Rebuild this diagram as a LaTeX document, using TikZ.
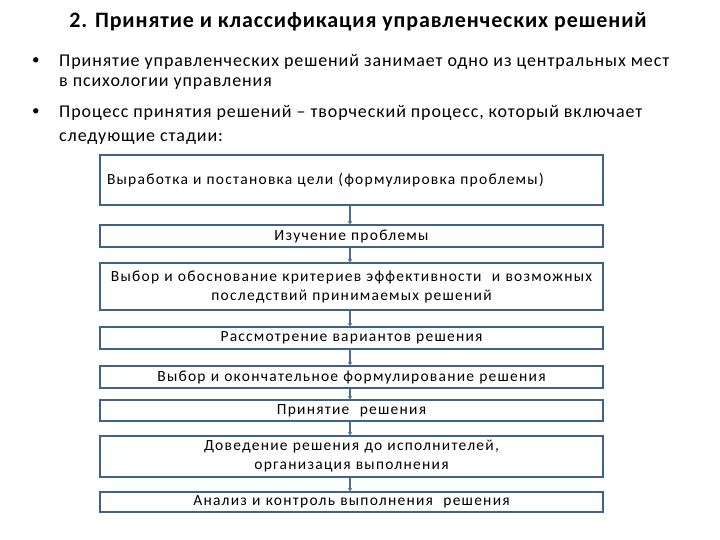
\documentclass[tikz,border=0pt]{standalone}
\usepackage{fontspec}
\setmainfont{Carlito}
\newfontfamily\boxf[LetterSpace=8]{Carlito}
\newfontfamily\bulf[LetterSpace=5]{Carlito}
\newfontfamily\titf[LetterSpace=4]{Carlito}
\usetikzlibrary{arrows.meta}
\definecolor{bx}{HTML}{3F6288}
\definecolor{ln}{HTML}{4A6E96}
\begin{document}
\begin{tikzpicture}[x=1pt,y=-1pt,
  stage/.style={draw=bx,line width=1.3pt,minimum width=503pt,inner sep=0pt,font=\boxf\fontsize{15.5}{21}\selectfont,align=center,text width=497pt},
  conn/.style={draw=ln,line width=2.6pt,-{Latex[length=3pt,width=5pt]}},
  bul/.style={anchor=west,inner sep=0pt,font=\bulf\fontsize{18}{21}\selectfont}]
\useasboundingbox (0,0) rectangle (720,540);
\node[font=\titf\bfseries\fontsize{22}{24}\selectfont] (title) at (358,22) {2. Принятие и классификация управленческих решений};
\node[bul,font=\fontsize{15}{18}\selectfont] (b1) at (32,61) {•};
\node[bul] (t1) at (59,62) {Принятие управленческих решений занимает одно из центральных мест};
\node[bul] (t1b) at (59,84) {в психологии управления};
\node[bul,font=\fontsize{15}{18}\selectfont] (b2) at (32,112) {•};
\node[bul] (t2) at (59,113) {Процесс принятия решений – творческий процесс, который включает};
\node[bul] (t2b) at (59,139) {следующие стадии:};
\node[stage,minimum height=50pt,align=left] (s1) at (351.5,180) {\hspace*{4pt}Выработка и постановка цели (формулировка проблемы)};
\node[stage,minimum height=22pt] (s2) at (351.5,236) {Изучение проблемы};
\node[stage,minimum height=47pt] (s3) at (351.5,286.5) {Выбор и обоснование критериев эффективности \ и возможных\\[-2pt]последствий принимаемых решений};
\node[stage,minimum height=22pt] (s4) at (351.5,338) {Рассмотрение вариантов решения};
\node[stage,minimum height=22pt] (s5) at (351.5,377) {Выбор и окончательное формулирование решения};
\node[stage,minimum height=21pt] (s6) at (351.5,410.5) {Принятие \ решения};
\node[stage,minimum height=41pt] (s7) at (351.5,456.5) {Доведение решения до исполнителей,\\[-2pt]организация выполнения};
\node[stage,minimum height=20pt] (s8) at (351.5,502) {Анализ и контроль выполнения \ решения};
\foreach \a/\b in {s1/s2,s2/s3,s3/s4,s4/s5,s5/s6,s6/s7,s7/s8}
  \draw[conn] (\a.south -| 350,0) -- (\b.north -| 350,0);
\end{tikzpicture}
\end{document}
